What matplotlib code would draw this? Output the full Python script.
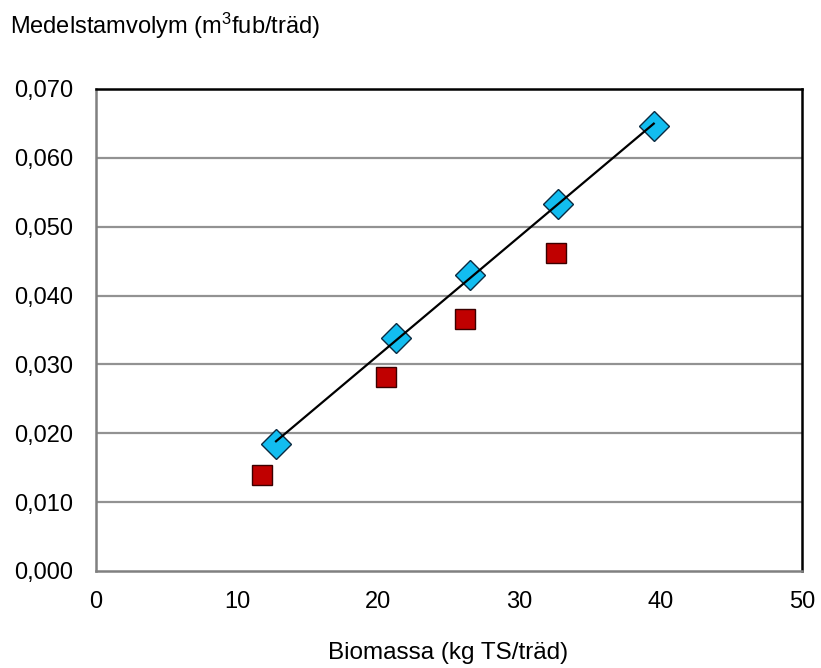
import numpy as np
import matplotlib.pyplot as plt

plt.rcParams['font.family'] = ['Liberation Sans', 'DejaVu Sans']
plt.rcParams['mathtext.fontset'] = 'custom'
plt.rcParams['mathtext.rm'] = 'Liberation Sans'
plt.rcParams['mathtext.it'] = 'Liberation Sans:italic'

# Biomass (kg TS/träd) and mean stem volume (m3fub/träd)
bio_blue = [12.75, 21.25, 26.5, 32.7, 39.5]
vol_blue = [0.0184, 0.0338, 0.0430, 0.0533, 0.0646]
bio_red = [11.75, 20.55, 26.15, 32.6]
vol_red = [0.0139, 0.0282, 0.0366, 0.0462]

x_ticks = [0, 10, 20, 30, 40, 50]
y_ticks = [0.000, 0.010, 0.020, 0.030, 0.040, 0.050, 0.060, 0.070]
y_labels = [f"{v:.3f}".replace('.', ',') for v in y_ticks]

fig = plt.figure(figsize=(8.21, 6.68), dpi=100)
ax = fig.add_axes([96 / 821, 1 - 571 / 668, (802 - 96) / 821, (571 - 89) / 668])

ax.set_xlim(0, 50)
ax.set_ylim(0, 0.070)
ax.set_xticks(x_ticks)
ax.set_yticks(y_ticks)
ax.set_yticklabels(y_labels)
ax.tick_params(length=0, labelsize=17)
ax.tick_params(axis='x', pad=14.5)
ax.tick_params(axis='y', pad=16.5)

for y in y_ticks[1:-1]:
    ax.axhline(y, color='#929292', lw=1.6, zorder=1)

for side in ('left', 'bottom'):
    ax.spines[side].set_color('#808080')
    ax.spines[side].set_linewidth(1.8)
for side in ('top', 'right'):
    ax.spines[side].set_color('black')
    ax.spines[side].set_linewidth(1.8)

ax.plot(bio_red, vol_red, linestyle='none', marker='s', markersize=14,
        markerfacecolor='#c00000', markeredgecolor='#3a0000', markeredgewidth=1.0, zorder=3)
ax.plot(bio_blue, vol_blue, linestyle='none', marker='D', markersize=15,
        markerfacecolor='#12bdf0', markeredgecolor='#0a2a40', markeredgewidth=1.0, zorder=3)

# Linear trend line through the blue series
k, m = np.polyfit(bio_blue, vol_blue, 1)
xs = np.array([min(bio_blue), max(bio_blue)])
ax.plot(xs, k * xs + m, color='black', lw=1.6, zorder=4)

fig.text(10 / 821, 1 - 34 / 668, r"Medelstamvolym (m$^3$fub/träd)", fontsize=17,
         va='baseline', ha='left')
fig.text(448 / 821, 1 - 659 / 668, "Biomassa (kg TS/träd)", fontsize=17.5,
         va='baseline', ha='center')

fig.savefig('out.png', dpi=100)
